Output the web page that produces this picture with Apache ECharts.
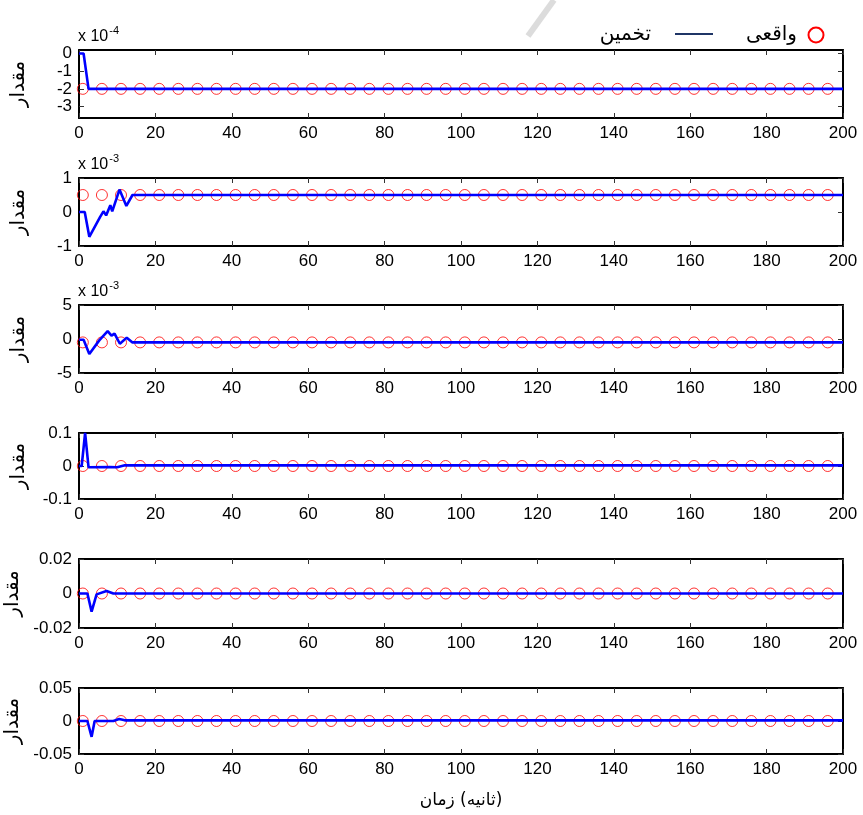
<!DOCTYPE html>
<html>
<head>
<meta charset="utf-8">
<script src="https://cdn.jsdelivr.net/npm/echarts@6/dist/echarts.min.js"></script>
<style>
  html, body { margin: 0; padding: 0; background: #ffffff; }
  #chart { width: 863px; height: 815px; }
</style>
</head>
<body>
<div id="chart"></div>
<script>
// Time axis ticks (seconds)
const timeTicks = [0, 20, 40, 60, 80, 100, 120, 140, 160, 180, 200];

// Sample instants of the measured (true) values
const sampleTimes = [1, 6, 11, 16, 21, 26, 31, 36, 41, 46, 51, 56, 61, 66, 71, 76, 81, 86, 91, 96,
  101, 106, 111, 116, 121, 126, 131, 136, 141, 146, 151, 156, 161, 166, 171, 176, 181, 186, 191, 196];

// True parameter values (in the units shown on each axis)
const true1 = [-2, -2, -2, -2, -2, -2, -2, -2, -2, -2, -2, -2, -2, -2, -2, -2, -2, -2, -2, -2,
  -2, -2, -2, -2, -2, -2, -2, -2, -2, -2, -2, -2, -2, -2, -2, -2, -2, -2, -2, -2];
const true2 = [0.5, 0.5, 0.5, 0.5, 0.5, 0.5, 0.5, 0.5, 0.5, 0.5, 0.5, 0.5, 0.5, 0.5, 0.5, 0.5, 0.5, 0.5, 0.5, 0.5,
  0.5, 0.5, 0.5, 0.5, 0.5, 0.5, 0.5, 0.5, 0.5, 0.5, 0.5, 0.5, 0.5, 0.5, 0.5, 0.5, 0.5, 0.5, 0.5, 0.5];
const true3 = [-0.5, -0.5, -0.5, -0.5, -0.5, -0.5, -0.5, -0.5, -0.5, -0.5, -0.5, -0.5, -0.5, -0.5, -0.5, -0.5, -0.5, -0.5, -0.5, -0.5,
  -0.5, -0.5, -0.5, -0.5, -0.5, -0.5, -0.5, -0.5, -0.5, -0.5, -0.5, -0.5, -0.5, -0.5, -0.5, -0.5, -0.5, -0.5, -0.5, -0.5];
const true4 = [0, 0, 0, 0, 0, 0, 0, 0, 0, 0, 0, 0, 0, 0, 0, 0, 0, 0, 0, 0,
  0, 0, 0, 0, 0, 0, 0, 0, 0, 0, 0, 0, 0, 0, 0, 0, 0, 0, 0, 0];
const true5 = [0, 0, 0, 0, 0, 0, 0, 0, 0, 0, 0, 0, 0, 0, 0, 0, 0, 0, 0, 0,
  0, 0, 0, 0, 0, 0, 0, 0, 0, 0, 0, 0, 0, 0, 0, 0, 0, 0, 0, 0];
const true6 = [0, 0, 0, 0, 0, 0, 0, 0, 0, 0, 0, 0, 0, 0, 0, 0, 0, 0, 0, 0,
  0, 0, 0, 0, 0, 0, 0, 0, 0, 0, 0, 0, 0, 0, 0, 0, 0, 0, 0, 0];

// Estimated parameter trajectories: time instants and values
const estT1 = [0, 1.2, 2.5, 200];
const est1 = [0, 0, -2, -2];
const estT2 = [0, 1.5, 2.7, 5.5, 6.4, 7.1, 8.2, 8.7, 10.6, 12.4, 14, 200];
const est2 = [0, 0, -0.73, -0.15, 0.02, -0.1, 0.2, 0.02, 0.66, 0.18, 0.5, 0.5];
const estT3 = [0, 1.2, 2.7, 5.3, 7.5, 8.5, 9.3, 10.7, 12.5, 14, 200];
const est3 = [-0.1, -0.1, -2.2, -0.2, 1.15, 0.5, 0.8, -0.7, 0.2, -0.5, -0.5];
const estT4 = [0, 0.7, 1.6, 2.5, 8, 10, 12, 200];
const est4 = [0, 0, 0.1, -0.004, -0.003, -0.004, 0.002, 0.002];
const estT5 = [0, 2.2, 3.3, 4.6, 7.2, 9, 200];
const est5 = [0, 0, -0.0105, -0.0005, 0.0015, 0, 0];
const estT6 = [0, 2.2, 3.3, 4.1, 9, 10.5, 12, 200];
const est6 = [0, 0, -0.024, 0, 0, 0.003, 0.001, 0.001];

// Y tick labels and axis ranges per panel
const yTicks = [[-3, -2, -1, 0], [-1, 0, 1], [-5, 0, 5], [-0.1, 0, 0.1], [-0.02, 0, 0.02], [-0.05, 0, 0.05]];
const yRanges = [[-3.65, 0.2], [-1, 1], [-5, 5], [-0.1, 0.1], [-0.02, 0.02], [-0.05, 0.05]];
const yExponents = ['-4', '-3', '-3', null, null, null];

const labelTrue = 'واقعی';
const labelEst = 'تخمین';
const labelY = 'مقدار';
const labelXWord = 'زمان';
const labelXUnit = '(ثانیه)';

const trueSets = [true1, true2, true3, true4, true5, true6];
const estTimes = [estT1, estT2, estT3, estT4, estT5, estT6];
const estSets = [est1, est2, est3, est4, est5, est6];

const panelTops = [50, 178, 305, 433, 559, 688];
const panelHeights = [68, 68, 68, 66, 69, 66];

const numFont = 'Liberation Sans, Arial, sans-serif';
const arFont = 'DejaVu Sans, Noto Sans, sans-serif';
const boxLine = { color: '#000000', width: 2 };
const tickStyle = { color: '#333333', width: 1 };

const grids = [], xAxes = [], yAxes = [], series = [], graphics = [];

panelTops.forEach((top, i) => {
  grids.push({ left: 79, right: 20, top: top, height: panelHeights[i], containLabel: false, outerBoundsMode: 'none' });

  const isLast = i === panelTops.length - 1;
  // bottom (labelled) and top (ticks only) time axes
  xAxes.push({
    gridIndex: i, type: 'value', position: 'bottom',
    min: timeTicks[0], max: timeTicks[timeTicks.length - 1], interval: timeTicks[1] - timeTicks[0],
    axisLine: { show: true, onZero: false, lineStyle: boxLine },
    axisTick: { show: true, inside: true, length: 5, lineStyle: tickStyle },
    axisLabel: { show: true, color: '#000', fontSize: 17, fontFamily: numFont, margin: 7 },
    splitLine: { show: false },
    name: isLast ? '{w|' + labelXWord + '}{w| }{w|' + labelXUnit + '}' : '',
    nameLocation: 'middle', nameGap: 38,
    nameTextStyle: { color: '#000', fontSize: 17, fontFamily: arFont, rich: { w: { fontSize: 17, fontFamily: arFont, color: '#000' } } }
  });
  xAxes.push({
    gridIndex: i, type: 'value', position: 'top',
    min: timeTicks[0], max: timeTicks[timeTicks.length - 1], interval: timeTicks[1] - timeTicks[0],
    axisLine: { show: true, onZero: false, lineStyle: boxLine },
    axisTick: { show: true, inside: true, length: 5, lineStyle: tickStyle },
    axisLabel: { show: false },
    splitLine: { show: false }
  });

  // left (labelled) and right (ticks only) value axes
  yAxes.push({
    gridIndex: i, type: 'value', position: 'left',
    min: yRanges[i][0], max: yRanges[i][1],
    axisLine: { show: true, onZero: false, lineStyle: boxLine },
    axisTick: { show: true, inside: true, length: 5, lineStyle: tickStyle, customValues: yTicks[i] },
    axisLabel: { show: true, color: '#000', fontSize: 17, fontFamily: numFont, margin: 7, customValues: yTicks[i] },
    splitLine: { show: false },
    name: labelY, nameLocation: 'middle', nameRotate: 90, nameGap: 50,
    nameTextStyle: { color: '#000', fontSize: 20, fontFamily: arFont }
  });
  yAxes.push({
    gridIndex: i, type: 'value', position: 'right',
    min: yRanges[i][0], max: yRanges[i][1],
    axisLine: { show: true, onZero: false, lineStyle: boxLine },
    axisTick: { show: true, inside: true, length: 5, lineStyle: tickStyle, customValues: yTicks[i] },
    axisLabel: { show: false },
    splitLine: { show: false }
  });

  series.push({
    type: 'scatter', name: labelTrue,
    xAxisIndex: 2 * i, yAxisIndex: 2 * i,
    symbol: 'circle', symbolSize: 11,
    itemStyle: { color: 'rgba(0,0,0,0)', borderColor: '#ff0000', borderWidth: 1 },
    data: sampleTimes.map((t, k) => [t, trueSets[i][k]]),
    z: 2, silent: true
  });
  series.push({
    type: 'line', name: labelEst,
    xAxisIndex: 2 * i, yAxisIndex: 2 * i,
    showSymbol: false, symbol: 'none',
    lineStyle: { color: '#0000ff', width: 2.6 },
    data: estTimes[i].map((t, k) => [t, estSets[i][k]]),
    z: 3, silent: true
  });

  // scale factor note above the value axis
  if (yExponents[i]) {
    graphics.push({
      type: 'text', left: 78, top: top - 25,
      style: {
        text: '{b|x 10}{s|' + yExponents[i] + '}',
        rich: {
          b: { fontSize: 16, fontFamily: numFont, fill: '#000', verticalAlign: 'bottom', lineHeight: 20 },
          s: { fontSize: 11, fontFamily: numFont, fill: '#000', verticalAlign: 'top', lineHeight: 20, padding: [0, 0, 10, 1] }
        }
      }
    });
  }
});

// legend (right-to-left: symbol to the right of its text)
graphics.push(
  { type: 'line', shape: { x1: 528, y1: 36, x2: 554, y2: 0 }, style: { stroke: '#dcdcdc', lineWidth: 6 }, silent: true },
  { type: 'circle', shape: { cx: 816, cy: 35, r: 7.5 }, style: { fill: 'none', stroke: '#ff0000', lineWidth: 2 } },
  { type: 'text', x: 797, y: 35, style: { text: labelTrue, fontSize: 20, fontFamily: arFont, fill: '#000', align: 'right', verticalAlign: 'middle' } },
  { type: 'line', shape: { x1: 675, y1: 34, x2: 713, y2: 34 }, style: { stroke: '#1f3566', lineWidth: 2 } },
  { type: 'text', x: 651, y: 35, style: { text: labelEst, fontSize: 20, fontFamily: arFont, fill: '#000', align: 'right', verticalAlign: 'middle' } }
);

const chart = echarts.init(document.getElementById('chart'), null, { renderer: 'canvas' });
chart.setOption({
  backgroundColor: '#ffffff',
  animation: false,
  grid: grids,
  xAxis: xAxes,
  yAxis: yAxes,
  series: series,
  graphic: graphics
});
</script>
</body>
</html>
